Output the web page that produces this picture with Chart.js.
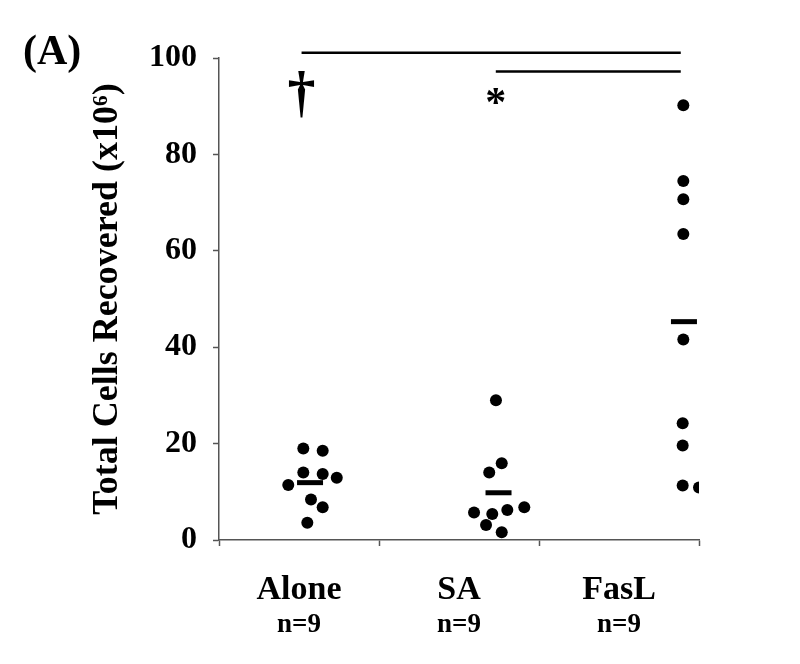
<!DOCTYPE html>
<html>
<head>
<meta charset="utf-8">
<script src="https://cdn.jsdelivr.net/npm/chart.js@4/dist/chart.umd.min.js"></script>
<style>
  body { margin: 0; background: #fff; }
  #wrap { width: 800px; height: 664px; }
</style>
</head>
<body>
<div id="wrap"><canvas id="myChart"></canvas></div>
<script>
// groups on the x axis (each one unit wide, centred at .5)
const groupNames = ['Alone', 'SA', 'FasL'];
const groupN = ['n=9', 'n=9', 'n=9'];

// individual animals, x = jittered position inside the group
const aloneX = [0.527, 0.648, 0.527, 0.648, 0.736, 0.433, 0.575, 0.648, 0.552];
const aloneY = [19.0, 18.5, 14.0, 13.7, 12.9, 11.4, 8.4, 6.8, 3.6];
const saX = [1.731, 1.767, 1.689, 1.594, 1.708, 1.802, 1.908, 1.669, 1.767];
const saY = [29.0, 15.9, 14.0, 5.7, 5.4, 6.2, 6.8, 3.1, 1.6];
const faslX = [2.902, 2.902, 2.902, 2.902, 2.902, 2.898, 2.898, 2.898, 3.0];
const faslY = [90.2, 74.5, 70.7, 63.5, 41.6, 24.2, 19.6, 11.3, 10.9];

// group means (short horizontal bars)
const meanX = [0.569, 1.747, 2.906];
const meanY = [11.9, 9.8, 45.3];

// significance brackets and their symbols
const bracketFrom = [0.516, 1.73];
const bracketTo = [2.886, 2.886];
const bracketY = [101.1, 97.2];
const sigText = ['\u2020', '*'];
const sigX = [0.516, 1.73];
const sigY = [92.0, 90.3];
const sigSize = [56, 42];

const yTicks = [0, 20, 40, 60, 80, 100];

const serif = '"Liberation Serif", "Times New Roman", serif';
const axisColor = '#555';

function pts(xs, ys) {
    return xs.map((x, i) => ({ x: x, y: ys[i] }));
}

const datasets = [
    { data: pts(aloneX, aloneY), backgroundColor: '#000', borderColor: '#000', pointRadius: 6, borderWidth: 0 },
    { data: pts(saX, saY), backgroundColor: '#000', borderColor: '#000', pointRadius: 6, borderWidth: 0 },
    { data: pts(faslX, faslY), backgroundColor: '#000', borderColor: '#000', pointRadius: 6, borderWidth: 0 },
    { data: pts(meanX, meanY), pointStyle: 'line', pointRadius: 13, borderWidth: 5, borderColor: '#000' }
];
// brackets as plain line segments
for (let i = 0; i < bracketY.length; i++) {
    datasets.push({
        type: 'line',
        data: [{ x: bracketFrom[i], y: bracketY[i] }, { x: bracketTo[i], y: bracketY[i] }],
        borderColor: '#000',
        borderWidth: 2.5,
        pointRadius: 0,
        clip: false
    });
}

// panel letter + significance symbols
const textPlugin = {
    id: 'texts',
    afterDatasetsDraw(chart) {
        const ctx = chart.ctx;
        const xs = chart.scales.x, ys = chart.scales.y;
        ctx.save();
        ctx.fillStyle = '#000';
        ctx.textAlign = 'center';
        ctx.textBaseline = 'middle';
        for (let i = 0; i < sigText.length; i++) {
            ctx.font = 'bold ' + sigSize[i] + 'px ' + serif;
            ctx.fillText(sigText[i], xs.getPixelForValue(sigX[i]), ys.getPixelForValue(sigY[i]));
        }
        ctx.textAlign = 'left';
        ctx.textBaseline = 'top';
        ctx.font = 'bold 42px ' + serif;
        ctx.fillText('(A)', 23, 32);
        ctx.restore();
    }
};

function groupTicks(axis) {
    axis.ticks = [0, 0.5, 1, 1.5, 2, 2.5, 3].map(v => ({ value: v }));
}

const ctx = document.getElementById('myChart').getContext('2d');
new Chart(ctx, {
    type: 'scatter',
    data: { datasets: datasets },
    options: {
        responsive: true,
        maintainAspectRatio: false,
        animation: false,
        events: [],
        layout: { padding: { left: 0, right: 101, top: 58, bottom: 0 } },
        plugins: { legend: { display: false }, tooltip: { enabled: false } },
        scales: {
            x: {
                type: 'linear',
                min: 0, max: 3,
                afterBuildTicks: groupTicks,
                afterFit: s => { s.height = 60; },
                border: { color: axisColor, width: 1.5 },
                grid: {
                    drawOnChartArea: false,
                    tickLength: 6,
                    tickWidth: 1.5,
                    tickColor: c => (c.tick && Number.isInteger(c.tick.value)) ? axisColor : 'rgba(0,0,0,0)'
                },
                ticks: {
                    maxRotation: 0, minRotation: 0, autoSkip: false,
                    padding: 24,
                    color: '#000',
                    font: { family: serif, size: 34, weight: 'bold' },
                    callback: v => Number.isInteger(v) ? '' : groupNames[Math.floor(v)]
                }
            },
            x2: {
                type: 'linear',
                position: 'bottom',
                weight: 1,
                min: 0, max: 3,
                afterBuildTicks: a => { a.ticks = [0.5, 1.5, 2.5].map(v => ({ value: v })); },
                afterFit: s => { s.height = 64; },
                border: { display: false },
                grid: { display: false, drawTicks: false },
                ticks: {
                    maxRotation: 0, minRotation: 0, autoSkip: false,
                    padding: 9,
                    color: '#000',
                    font: { family: serif, size: 27, weight: 'bold' },
                    callback: v => groupN[Math.floor(v)]
                }
            },
            y: {
                min: 0, max: 100,
                afterBuildTicks: a => { a.ticks = yTicks.map(v => ({ value: v })); },
                afterFit: s => { s.width = 219; },
                border: { color: axisColor, width: 1.5 },
                grid: { drawOnChartArea: false, tickLength: 6, tickWidth: 1.5, tickColor: axisColor },
                ticks: {
                    padding: 16,
                    color: '#000',
                    font: { family: serif, size: 32, weight: 'bold' }
                },
                title: {
                    display: true,
                    text: 'Total Cells Recovered (x10\u2076)',
                    color: '#000',
                    font: { family: serif, size: 36, weight: 'bold' },
                    padding: { top: 86, bottom: 0 }
                }
            }
        }
    },
    plugins: [textPlugin]
});
</script>
</body>
</html>
